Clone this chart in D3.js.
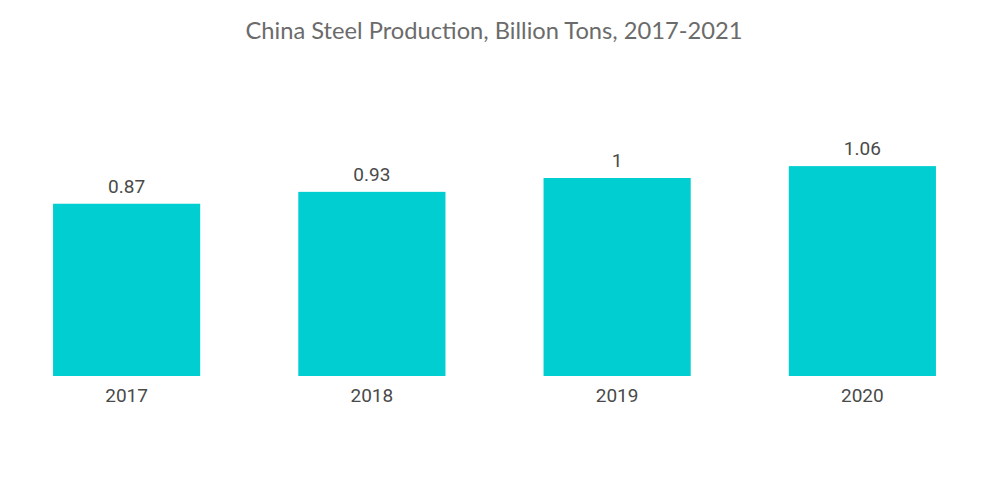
<!DOCTYPE html>
<html>
<head>
<meta charset="utf-8">
<script src="https://cdn.jsdelivr.net/npm/d3@7"></script>
<style>
  body { margin: 0; background: #fff; }
</style>
</head>
<body>
<div class="svgtarget"></div>
<script>
// chart data
var years = ["2017", "2018", "2019", "2020"];
var production = [0.87, 0.93, 1, 1.06];
var titleText = "China Steel Production, Billion Tons, 2017-2021";

var width = 1000, height = 504;
var baseline = 376;

var svg = d3.select(".svgtarget")
            .append("svg")
            .attr("width", width)
            .attr("height", height);

svg.append("text")
   .attr("x", 494)
   .attr("y", 39)
   .attr("text-anchor", "middle")
   .style("font-family", "Lato, 'Open Sans', sans-serif")
   .style("font-size", "23.7px")
   .style("fill", "#6b6b6b")
   .text(titleText);

var x = d3.scaleBand()
          .domain(years)
          .range([4, 985])
          .paddingInner(0.4)
          .paddingOuter(0.2);

var y = d3.scaleLinear()
          .domain([0, 1])
          .range([baseline, baseline - 198]);

var data = years.map(function(d, i) { return [d, production[i]]; });

svg.selectAll("rect")
   .data(data)
   .enter().append("rect")
   .attr("x", d => x(d[0]))
   .attr("width", x.bandwidth())
   .attr("y", d => y(d[1]))
   .attr("height", d => baseline - y(d[1]))
   .style("fill", "#00ced1");

svg.selectAll(".vlabel")
   .data(data)
   .enter().append("text")
   .attr("class", "vlabel")
   .attr("x", d => x(d[0]) + x.bandwidth() / 2)
   .attr("y", d => y(d[1]) - 11)
   .attr("text-anchor", "middle")
   .style("font-family", "Roboto, sans-serif")
   .style("font-size", "19px")
   .style("fill", "#4a4a4a")
   .text(d => d[1]);

var xAxis = svg.append("g")
               .attr("transform", "translate(0," + baseline + ")")
               .call(d3.axisBottom(x).tickSize(0).tickPadding(13));
xAxis.select(".domain").remove();
xAxis.selectAll("text")
     .style("font-family", "Roboto, sans-serif")
     .style("font-size", "19px")
     .style("fill", "#4a4a4a");
</script>
</body>
</html>
